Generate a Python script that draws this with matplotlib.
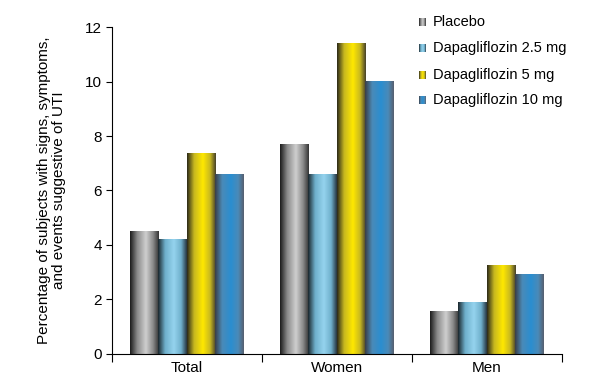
import numpy as np
import matplotlib
matplotlib.use("Agg")
from matplotlib import pyplot as plt
from matplotlib.colors import LinearSegmentedColormap

plt.rcParams['font.family'] = ['Liberation Sans', 'DejaVu Sans']

groups = ["Total", "Women", "Men"]
series = ["Placebo", "Dapagliflozin 2.5 mg", "Dapagliflozin 5 mg", "Dapagliflozin 10 mg"]
placebo = [4.5, 7.7, 1.55]
dapa_2_5 = [4.2, 6.6, 1.9]
dapa_5 = [7.35, 11.4, 3.25]
dapa_10 = [6.6, 10.0, 2.9]
values = [placebo, dapa_2_5, dapa_5, dapa_10]

# edge / mid / center colours for the cylinder look
shades = [
    ("#1a1a1a", "#8a8a8a", "#cfcfcf", "#333333"),
    ("#1a252b", "#6fb0cc", "#95d3ee", "#26343e"),
    ("#2a2818", "#c8b820", "#ffe800", "#45402a"),
    ("#3a3d46", "#4a8ab8", "#2a8ed0", "#585f6e"),
]


def make_cmap(s):
    return LinearSegmentedColormap.from_list(
        "g", [(0.0, s[0]), (0.25, s[1]), (0.55, s[2]), (0.8, s[1]), (1.0, s[3])])


grad = np.linspace(0, 1, 256)[np.newaxis, :]

fig = plt.figure(figsize=(5.89, 3.86), dpi=100)
ax = fig.add_axes([0.190, 0.083, 0.764, 0.847])

bar_w = 0.19
x = np.arange(len(groups))
for i, vals in enumerate(values):
    cmap = make_cmap(shades[i])
    for j, v in enumerate(vals):
        x0 = x[j] + (i - 2) * bar_w
        ax.imshow(grad, extent=[x0, x0 + bar_w, 0, v], aspect='auto',
                  cmap=cmap, interpolation='bilinear')

ax.set_xlim(-0.5, 2.5)
ax.set_ylim(0, 12)
ax.set_yticks(np.arange(0, 13, 2))
ax.tick_params(axis='y', direction='out', length=4, width=0.8, labelsize=11, pad=3)

ax.set_xticks([-0.5, 0.5, 1.5, 2.5])
ax.set_xticklabels([])
ax.set_xticks(x, minor=True)
ax.set_xticklabels(groups, minor=True)
ax.tick_params(axis='x', which='major', direction='out', length=6, width=0.8)
ax.tick_params(axis='x', which='minor', length=0, labelsize=11, pad=5)

for side in ['top', 'right']:
    ax.spines[side].set_visible(False)
for side in ['left', 'bottom']:
    ax.spines[side].set_linewidth(0.8)

ax.set_ylabel("Percentage of subjects with signs, symptoms,\nand events suggestive of UTI",
              fontsize=11, labelpad=14, linespacing=1.05)

# legend drawn by hand so the squares keep the gradient
W, H = 589, 386
rows_y = [22, 48, 75, 100]
for i, name in enumerate(series):
    yc = rows_y[i]
    sq = fig.add_axes([419 / W, 1 - (yc + 4) / H, 7 / W, 8 / H])
    sq.imshow(grad, aspect='auto', cmap=make_cmap(shades[i]), interpolation='bilinear')
    sq.set_axis_off()
    fig.text(433 / W, 1 - yc / H, name, fontsize=10.5, va='center', ha='left')

fig.savefig("out.png", dpi=100)
